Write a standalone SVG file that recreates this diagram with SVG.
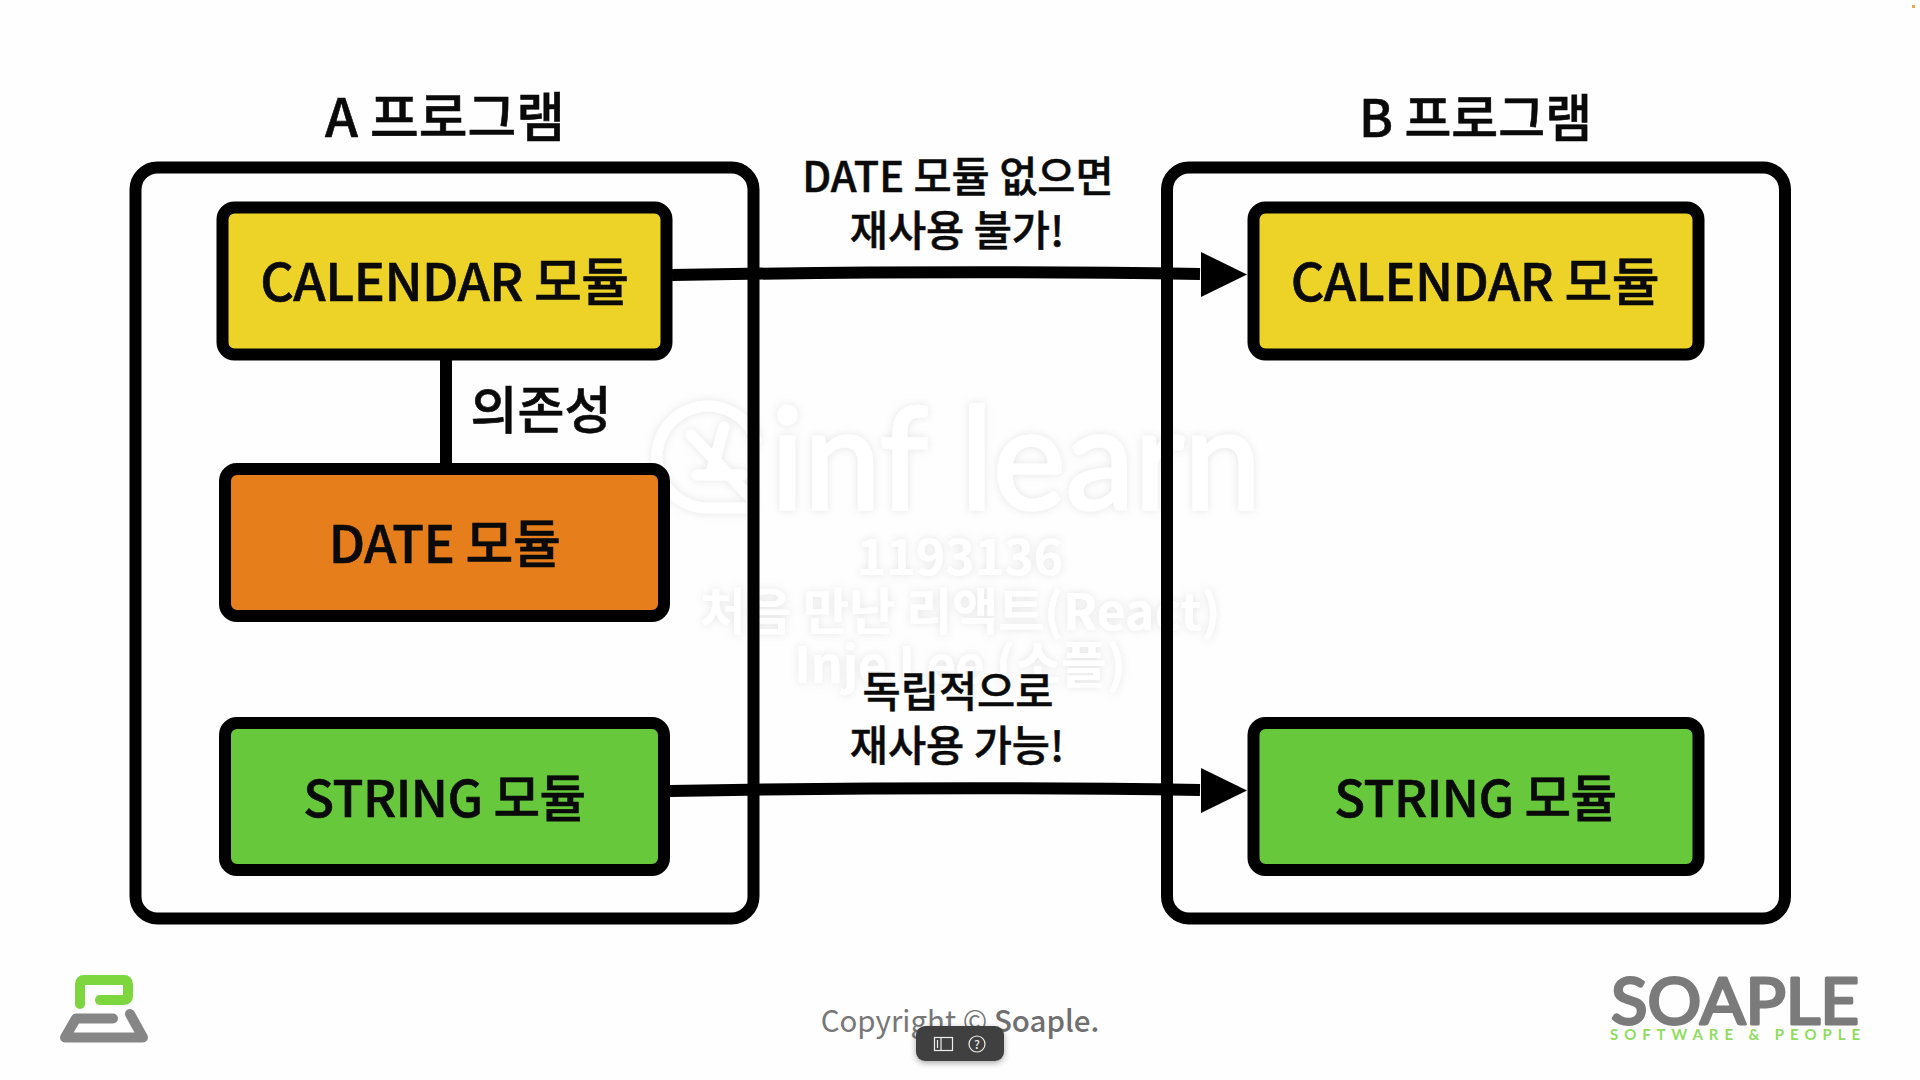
<svg xmlns="http://www.w3.org/2000/svg" width="1920" height="1080" viewBox="0 0 1920 1080">
<defs>
<style>
text{font-family:"Noto Sans CJK KR","Noto Sans",sans-serif;font-weight:500;fill:#0a0a0a;text-anchor:middle}
.prog{fill:none;stroke:#000;stroke-width:12}
.mod{stroke:#000;stroke-width:12}
.t{font-size:52px;letter-spacing:-0.5px;stroke:#0a0a0a;stroke-width:0.6px}
.s{font-size:50.700px}
.title{font-size:53px;stroke:#0a0a0a;stroke-width:0.6px}
.lab{font-size:41.500px;stroke:#0a0a0a;stroke-width:0.5px}
.wm{fill:#fff;font-weight:700;font-family:"Noto Sans CJK KR",sans-serif}
.conn{fill:none;stroke:#000;stroke-width:12}
</style>
<filter id="glow" x="-10%" y="-30%" width="120%" height="160%"><feDropShadow dx="0" dy="0" stdDeviation="4" flood-color="#000" flood-opacity="0.10"/></filter>
<filter id="tb" x="-20%" y="-30%" width="140%" height="170%"><feDropShadow dx="0" dy="2" stdDeviation="3" flood-color="#000" flood-opacity="0.35"/></filter>
</defs>
<rect width="1920" height="1080" fill="#fefefe"/>
<rect x="1912" y="5" width="3" height="3" fill="#e8a94c"/>

<g id="watermark" filter="url(#glow)">
<g fill="none" stroke="#fff" stroke-width="11" stroke-linecap="round">
<path d="M748 508H708A51 51 0 1 1 756 440"/>
<path d="M691 435L750 497M724 427L712 470M697 475H742"/>
</g>
<text x="1016" y="509" font-size="142" textLength="490" lengthAdjust="spacingAndGlyphs" style="font-family:Lato,sans-serif;font-weight:400;fill:#fff;stroke:#fff;stroke-width:3">inf learn</text>
<text class="wm" x="960" y="575" font-size="50">1193136</text>
<text class="wm" x="960" y="630" font-size="50">처음 만난 리액트(React)</text>
<text class="wm" x="960" y="683" font-size="50">Inje Lee (소플)</text>
</g>

<g id="program-a">
<rect class="prog" x="135.500" y="167.500" width="618" height="751" rx="22"/>
<text class="title" x="445" y="137">A 프로그램</text>
</g>
<g id="program-b">
<rect class="prog" x="1167" y="167.500" width="618" height="751" rx="22"/>
<text class="title" style="font-size:51px" x="1475.500" y="136.500">B 프로그램</text>
</g>

<g id="connectors">
<path class="conn" d="M672 275Q960 270 1200 274"/>
<path d="M1201 252L1247 274.500L1201 297Z" fill="#000"/>
<path class="conn" d="M670 791Q960 786 1200 790"/>
<path d="M1201 768L1247 790.500L1201 813Z" fill="#000"/>
<path class="conn" d="M446 360V463"/>
</g>

<g id="calendar-a">
<rect class="mod" x="222.500" y="207.500" width="444" height="147" rx="12" fill="#edd327"/>
<text class="t" x="444.500" y="301">CALENDAR 모듈</text>
</g>
<g id="date-a">
<rect class="mod" x="225" y="469" width="439" height="147" rx="12" fill="#e67e1c"/>
<text class="t" x="444.500" y="563">DATE 모듈</text>
</g>
<g id="string-a">
<rect class="mod" x="225" y="723" width="439" height="147" rx="12" fill="#67c83c"/>
<text class="t s" x="444.500" y="816.500">STRING 모듈</text>
</g>
<g id="calendar-b">
<rect class="mod" x="1253.500" y="207.500" width="445" height="147" rx="12" fill="#edd327"/>
<text class="t" x="1475" y="301">CALENDAR 모듈</text>
</g>
<g id="string-b">
<rect class="mod" x="1253.500" y="723" width="445" height="147" rx="12" fill="#67c83c"/>
<text class="t s" x="1475.500" y="816.500">STRING 모듈</text>
</g>

<g id="labels">
<text x="541" y="429" font-size="51" stroke="#0a0a0a" stroke-width="0.6">의존성</text>
<text class="lab" x="958" y="192">DATE 모듈 없으면</text>
<text class="lab" x="957" y="246">재사용 불가!</text>
<text class="lab" x="958" y="707">독립적으로</text>
<text class="lab" x="957" y="761">재사용 가능!</text>
</g>

<g id="logo-mark" fill="none" stroke-linecap="round" stroke-linejoin="round">
<path d="M80 1004V984Q80 980 84 980H124Q128 980 128 984V996Q128 1000 124 1000H100" stroke="#7ed63f" stroke-width="10"/>
<path d="M113 1018.500H76L65 1037.500H143L130 1014" stroke="#868686" stroke-width="10"/>
</g>

<g id="copyright">
<text x="960" y="1032" font-size="29.500" style="font-weight:400;fill:#777">Copyright © <tspan style="font-weight:500;fill:#6f6f6f">Soaple.</tspan></text>
</g>

<g id="toolbar">
<rect x="916" y="1026" width="88" height="35" rx="9" fill="#3f3f3f" filter="url(#tb)"/>
<rect x="934.500" y="1037.500" width="18" height="13" fill="none" stroke="#eee" stroke-width="1.200"/>
<path d="M941 1037.500V1050.500M937.500 1040V1048" fill="none" stroke="#eee" stroke-width="1.200"/>
<circle cx="977" cy="1044" r="8" fill="none" stroke="#eee" stroke-width="1.200"/>
<text x="977" y="1048.500" font-size="12" style="fill:#eee">?</text>
</g>

<g id="soaple-logo">
<text x="1735" y="1024" font-size="64" textLength="248" lengthAdjust="spacingAndGlyphs" style="font-family:Lato,sans-serif;font-weight:400;fill:#7b7b7b;stroke:#7b7b7b;stroke-width:3;stroke-linejoin:round">SOAPLE</text>
<text x="1735" y="1040" font-size="15" textLength="250" style="font-family:Lato,sans-serif;font-weight:700;fill:#8fdc5f">SOFTWARE &amp; PEOPLE</text>
</g>
</svg>
